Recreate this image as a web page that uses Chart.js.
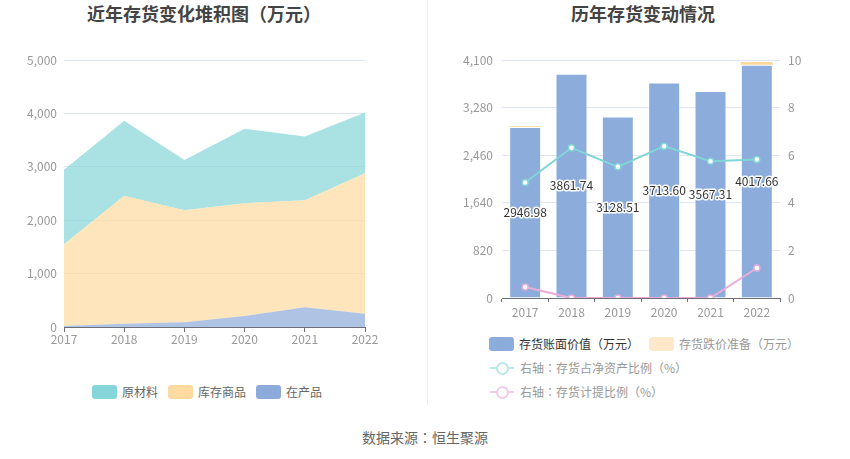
<!DOCTYPE html>
<html>
<head>
<meta charset="utf-8">
<script src="https://cdn.jsdelivr.net/npm/chart.js@4.4.1/dist/chart.umd.min.js"></script>
<style>
  /* centred full-width punctuation, as in the reference */
  @font-face { font-family: "PunctCJK"; font-weight: 400;
               src: local("Noto Sans CJK JP Regular"), local("NotoSansCJKjp-Regular"), local("Noto Sans CJK JP");
               unicode-range: U+FF08, U+FF09, U+FF1A; }
  @font-face { font-family: "PunctCJK"; font-weight: 700;
               src: local("Noto Sans CJK JP Bold"), local("NotoSansCJKjp-Bold"), local("Noto Sans CJK JP");
               unicode-range: U+FF08, U+FF09, U+FF1A; }
  body { margin: 0; width: 850px; height: 459px; background: #fff; position: relative; overflow: hidden;
         font-family: "PunctCJK", "Noto Sans CJK SC", "Noto Sans", sans-serif; }
  .title { position: absolute; top: 0; font-size: 18px; font-weight: bold; color: #444; white-space: nowrap; transform: translateX(-50%); }
  .box { position: absolute; }
  .divider { position: absolute; left: 427px; top: 0; width: 1px; height: 405px; background: #eeeeee; }
  .leg { position: absolute; display: flex; align-items: center; font-size: 12px; color: #666; white-space: nowrap; }
  .sw { width: 25px; height: 14px; border-radius: 3px; margin-right: 5px; }
  .li { position: relative; width: 24px; height: 14px; margin-right: 6px; }
  .li .ln { position: absolute; left: 0; top: 6px; width: 24px; height: 2px; }
  .li .cc { position: absolute; left: 6px; top: 1px; width: 9px; height: 9px; border-radius: 50%; background: #fff; border-width: 2px; border-style: solid; }
  .foot { position: absolute; top: 427px; left: 425px; transform: translateX(-50%); font-size: 14px; color: #666; white-space: nowrap; }
</style>
</head>
<body>
<div class="title" style="left:204px">近年存货变化堆积图（万元）</div>
<div class="title" style="left:643px">历年存货变动情况</div>
<div class="divider"></div>

<div class="box" style="left:0;top:40px;width:400px;height:310px"><canvas id="stackChart"></canvas></div>
<div class="box" style="left:430px;top:40px;width:420px;height:280px"><canvas id="stockChart"></canvas></div>

<div class="leg" style="left:92px;top:383px"><div class="sw" style="background:#86d5d8"></div>原材料</div>
<div class="leg" style="left:168px;top:383px"><div class="sw" style="background:#fdda9f"></div>库存商品</div>
<div class="leg" style="left:256px;top:383px"><div class="sw" style="background:#8dabda"></div>在产品</div>

<div class="leg" style="left:489px;top:335px;color:#333"><div class="sw" style="background:#8cacdb"></div>存货账面价值（万元）</div>
<div class="leg" style="left:649px;top:335px;color:#999"><div class="sw" style="background:#fde9c9"></div>存货跌价准备（万元）</div>
<div class="leg" style="left:490px;top:359px;color:#999"><div class="li"><div class="ln" style="background:#b8e8e8"></div><div class="cc" style="border-color:#b8e8e8"></div></div>右轴：存货占净资产比例（%）</div>
<div class="leg" style="left:490px;top:383px;color:#999"><div class="li"><div class="ln" style="background:#f2cbe6"></div><div class="cc" style="border-color:#f2cbe6"></div></div>右轴：存货计提比例（%）</div>

<div class="foot">数据来源：恒生聚源</div>

<script>
// Data
const years = ['2017', '2018', '2019', '2020', '2021', '2022'];

// left: stacked inventory composition (万元)
const rawMaterial = [1397, 1406, 941, 1395, 1192, 1137];
const finishedGoods = [1530, 2396, 2097, 2114, 2005, 2631];
const workInProgress = [20, 60, 90, 205, 370, 250];

// right: book value, provision (万元) and ratios (%)
const bookValue = [2946.98, 3861.74, 3128.51, 3713.60, 3567.31, 4017.66];
const provision = [13.5, 0, 0, 0, 0, 50];
const netAssetRatio = [4.85, 6.31, 5.51, 6.38, 5.75, 5.82];
const provisionRatio = [0.46, 0, 0, 0, 0, 1.26];

const tickFont = { family: '"Noto Sans CJK SC", "Noto Sans", sans-serif', size: 12 };
const gridColor = '#e0e6f1';
const axisColor = '#6e7079';

// Left chart
new Chart(document.getElementById('stackChart'), {
    type: 'line',
    data: {
        labels: years,
        datasets: [
            { label: '在产品', data: workInProgress, fill: 'origin', backgroundColor: 'rgba(141,171,218,0.7)', borderWidth: 0, pointRadius: 0 },
            { label: '库存商品', data: finishedGoods, fill: '-1', backgroundColor: 'rgba(253,218,159,0.7)', borderWidth: 0, pointRadius: 0 },
            { label: '原材料', data: rawMaterial, fill: '-1', backgroundColor: 'rgba(134,213,216,0.7)', borderWidth: 0, pointRadius: 0 }
        ]
    },
    options: {
        responsive: true,
        maintainAspectRatio: false,
        animation: false,
        layout: { padding: { top: 20, right: 35, left: 0, bottom: 0 } },
        plugins: { legend: { display: false }, tooltip: { enabled: false } },
        elements: { line: { tension: 0 } },
        scales: {
            x: {
                offset: false,
                grid: { drawOnChartArea: false, tickLength: 5, color: axisColor },
                border: { color: axisColor },
                ticks: { color: '#999', font: tickFont, padding: 0, maxRotation: 0 },
                afterFit: s => { s.height = 23; }
            },
            y: {
                stacked: true,
                min: 0, max: 5000,
                ticks: { stepSize: 1000, color: '#999', font: tickFont, padding: 7 },
                grid: { color: gridColor, drawTicks: false },
                border: { display: false },
                afterFit: s => { s.width = 64; }
            }
        }
    }
});

// data labels in the middle of the book value bars
const barLabels = {
    id: 'barLabels',
    afterDatasetsDraw(chart) {
        const ctx = chart.ctx;
        const meta = chart.getDatasetMeta(2);
        ctx.save();
        ctx.font = '12px "Noto Sans CJK SC", "Noto Sans", sans-serif';
        ctx.textAlign = 'center';
        ctx.textBaseline = 'middle';
        ctx.lineJoin = 'round';
        meta.data.forEach((bar, i) => {
            const y = (bar.y + bar.base) / 2;
            const txt = bookValue[i].toFixed(2);
            ctx.strokeStyle = '#fff';
            ctx.lineWidth = 3;
            ctx.strokeText(txt, bar.x, y);
            ctx.fillStyle = '#333';
            ctx.fillText(txt, bar.x, y);
        });
        ctx.restore();
    }
};

// Right chart
new Chart(document.getElementById('stockChart'), {
    type: 'bar',
    data: {
        labels: years,
        datasets: [
            { type: 'line', label: '右轴：存货占净资产比例（%）', data: netAssetRatio, yAxisID: 'y1',
              borderColor: '#80d5d6', borderWidth: 2, pointRadius: 3, pointBorderWidth: 1.5,
              pointBackgroundColor: '#fff', pointBorderColor: '#80d5d6', tension: 0 },
            { type: 'line', label: '右轴：存货计提比例（%）', data: provisionRatio, yAxisID: 'y1',
              borderColor: '#e9acd9', borderWidth: 2, pointRadius: 3, pointBorderWidth: 1.5,
              pointBackgroundColor: '#fff', pointBorderColor: '#e9acd9', tension: 0 },
            { label: '存货账面价值（万元）', data: bookValue, yAxisID: 'y', stack: 's',
              backgroundColor: '#8cacdb', borderColor: 'rgba(255,255,255,0.5)', borderWidth: 1 },
            { label: '存货跌价准备（万元）', data: provision, yAxisID: 'y', stack: 's',
              backgroundColor: '#fcd89b', borderWidth: 0 }
        ]
    },
    options: {
        responsive: true,
        maintainAspectRatio: false,
        animation: false,
        layout: { padding: { top: 20, right: 0, left: 0, bottom: 0 } },
        plugins: { legend: { display: false }, tooltip: { enabled: false } },
        datasets: { bar: { categoryPercentage: 1, barPercentage: 0.69 } },
        scales: {
            x: {
                stacked: true,
                grid: { drawOnChartArea: false, tickLength: 4, color: axisColor },
                border: { color: axisColor },
                ticks: { color: '#999', font: tickFont, padding: 3, maxRotation: 0 },
                afterFit: s => { s.height = 22; }
            },
            y: {
                stacked: true,
                position: 'left',
                min: 0, max: 4100,
                ticks: { stepSize: 820, color: '#999', font: tickFont, padding: 9 },
                grid: { color: gridColor, drawTicks: false },
                border: { display: false },
                afterFit: s => { s.width = 72; }
            },
            y1: {
                position: 'right',
                min: 0, max: 10,
                ticks: { stepSize: 2, color: '#999', font: tickFont, padding: 8 },
                grid: { display: false, drawTicks: false },
                border: { display: false },
                afterFit: s => { s.width = 70; }
            }
        }
    },
    plugins: [barLabels]
});
</script>
</body>
</html>
